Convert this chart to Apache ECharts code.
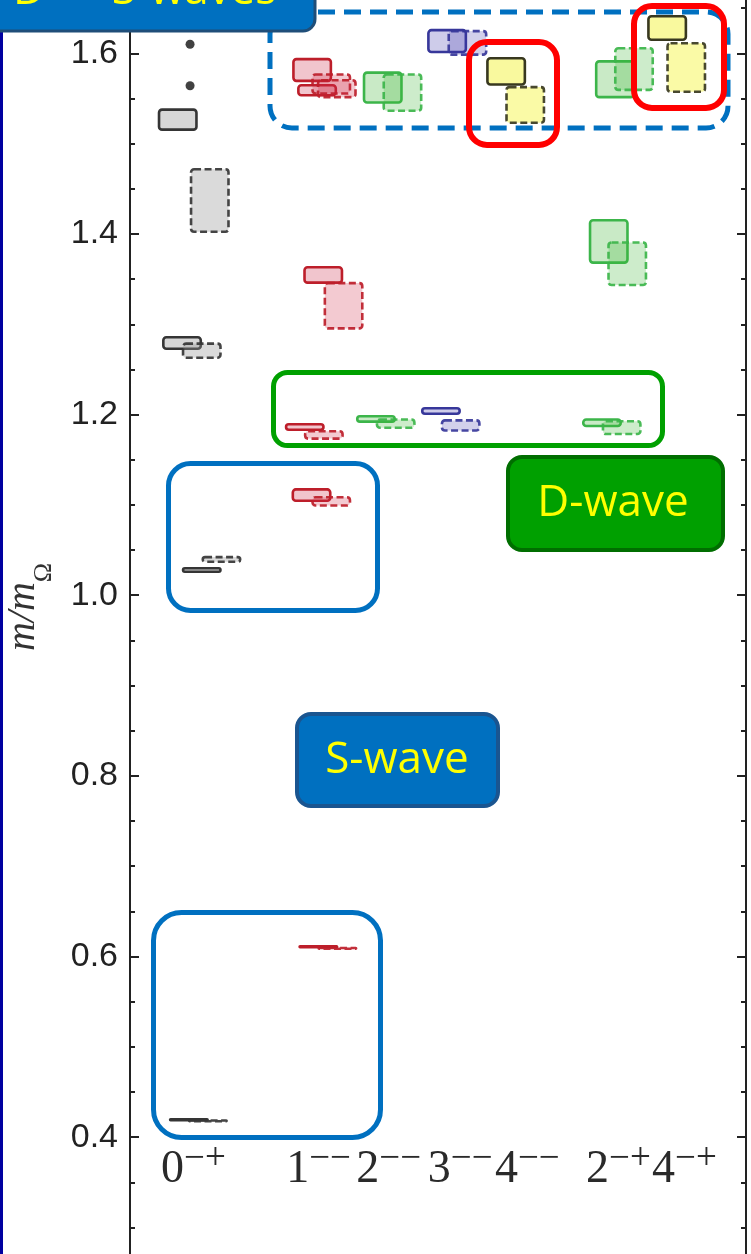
<!DOCTYPE html>
<html><head><meta charset="utf-8">
<script src="https://cdn.jsdelivr.net/npm/echarts@6/dist/echarts.min.js"></script>
<style>html,body{margin:0;padding:0;background:#fff}#c{width:751px;height:1254px}</style>
</head><body><div id="c"></div>
<script>
// ---- data ----
const channelDigits = ['0','1','2','3','4','2','4'];
const channelSigns  = ['−+','−−','−−','−−','−−','−+','−+'];
const channelPos = [1.055, 3.117, 4.253, 5.308, 6.266, 7.922, 8.880];
const labelPos   = [1.030, 3.060, 4.200, 5.360, 6.450, 7.930, 9.000];
const yTicks = [0.4, 0.6, 0.8, 1.0, 1.2, 1.4, 1.6];
// [channel, shift, low, high]  (solid outline ensemble)
const solidBoxes = [
  [0,-0.28,1.514,1.539],[0,-0.21,1.2715,1.287],[0,0.11,1.0246,1.0313],[0,-0.10,0.4190,0.4213],
  [1,-0.16,1.568,1.595],[1,-0.08,1.552,1.566],[1,0.02,1.3446,1.3645],[1,-0.28,1.1818,1.1907],[1,-0.17,1.1031,1.1186],[1,-0.06,0.6105,0.6128],
  [2,-0.15,1.544,1.580],[2,-0.26,1.1908,1.1996],
  [3,-0.16,1.600,1.627],[3,-0.26,1.1995,1.2084],
  [4,-0.16,1.564,1.596],
  [5,-0.05,1.550,1.5925],[5,-0.15,1.3668,1.4166],[5,-0.26,1.186,1.196],
  [6,-0.16,1.6136,1.6424]
];
// [channel, shift, low, high]  (dashed outline ensemble)
const dashedBoxes = [
  [0,0.24,1.401,1.473],[0,0.11,1.2615,1.280],[0,0.43,1.0357,1.0437],[0,0.21,0.4178,0.4200],
  [1,0.15,1.554,1.578],[1,0.24,1.550,1.5715],[1,0.35,1.294,1.347],[1,0.03,1.172,1.183],[1,0.15,1.098,1.110],[1,0.25,0.6088,0.6110],
  [2,0.17,1.535,1.578],[2,0.06,1.184,1.196],
  [3,0.17,1.597,1.626],[3,0.06,1.181,1.195],
  [4,0.15,1.5216,1.564],
  [5,0.26,1.558,1.607],[5,0.15,1.342,1.392],[5,0.06,1.177,1.194],
  [6,0.15,1.556,1.6125]
];
// [channel, shift, value]
const pointStates = [[0,-0.08,1.610],[0,-0.08,1.564]];

// ---- style ----
const palette = [
  {fill:'rgba(150,150,150,0.38)', stroke:'#353535'},
  {fill:'rgba(205,40,70,0.27)', stroke:'#bd1e2a'},
  {fill:'rgba(60,180,50,0.28)', stroke:'#3cb54a'},
  {fill:'rgba(60,50,170,0.25)', stroke:'#37379a'},
  {fill:'rgba(240,240,0,0.38)', stroke:'#38381f'},
  {fill:'rgba(60,180,50,0.28)', stroke:'#3cb54a'},
  {fill:'rgba(240,240,0,0.38)', stroke:'#38381f'}
];
const BOX_W = 0.65;
const LW = 2.6;

function boxSeries(boxes, dashed) {
  return {
    type: 'custom', xAxisIndex: 0, yAxisIndex: 0, z: dashed ? 3 : 2,
    data: boxes.map(b => [channelPos[b[0]] + b[1], b[2], b[3], b[0]]),
    encode: {x: 0, y: [1, 2]},
    renderItem: function (params, api) {
      const xc = api.value(0), lo = api.value(1), hi = api.value(2), ci = api.value(3);
      const p1 = api.coord([xc - BOX_W / 2, hi]);
      const p2 = api.coord([xc + BOX_W / 2, lo]);
      const pal = palette[ci];
      const h = Math.max(p2[1] - p1[1] - LW, 0.8);
      return {
        type: 'rect',
        shape: {x: p1[0] + LW/2, y: p1[1] + LW/2, width: p2[0] - p1[0] - LW, height: h, r: 3},
        style: {fill: pal.fill, stroke: pal.stroke, lineWidth: LW, lineDash: dashed ? [7, 3.5] : null, opacity: dashed ? 0.92 : 1}
      };
    }
  };
}

const chart = echarts.init(document.getElementById('c'), null, {renderer: 'canvas'});
const TOP = -127.4, H = 1445.3;
const axisCol = '#222';
const yAxisBase = {
  type: 'value', min: 0.2, max: 1.8, interval: 0.2,
  axisLine: {show: true, onZero: false, lineStyle: {color: axisCol, width: 2}},
  axisTick: {show: true, inside: true, length: 9, lineStyle: {color: axisCol, width: 2}},
  minorTick: {show: true, splitNumber: 4, length: 5, lineStyle: {color: axisCol, width: 2}},
  splitLine: {show: false}, minorSplitLine: {show: false}
};
chart.setOption({
  animation: false,
  backgroundColor: '#fff',
  grid: {left: 130, top: TOP, width: 616, height: H, containLabel: false, outerBoundsMode: 'none'},
  xAxis: [
    {type: 'value', min: 0, max: 10, show: false},
    {type: 'value', min: 0, max: 10, position: 'bottom', offset: -(TOP + H - 1145),
     axisLine: {show: false, onZero: false}, axisTick: {show: false}, splitLine: {show: false},
     axisLabel: {
       customValues: labelPos, margin: 2, hideOverlap: false, showMinLabel: true, showMaxLabel: true,
       formatter: function (v) {
         let k = 0, best = 1e9;
         labelPos.forEach((p, i) => { if (Math.abs(p - v) < best) { best = Math.abs(p - v); k = i; } });
         return '{d|' + channelDigits[k] + '}{s|' + channelSigns[k] + '}';
       },
       rich: {
         d: {fontSize: 46, fontFamily: 'Liberation Serif', color: '#2a2a2a', lineHeight: 46, verticalAlign: 'bottom'},
         s: {fontSize: 37, fontFamily: 'Liberation Serif', color: '#2a2a2a', lineHeight: 37, verticalAlign: 'bottom', padding: [0, 0, 15, 0]}
       }
     }}
  ],
  yAxis: [
    Object.assign({}, yAxisBase, {position: 'left',
      axisLabel: {fontSize: 34, fontFamily: 'Liberation Sans', color: axisCol, margin: 12,
        formatter: v => yTicks.some(t => Math.abs(t - v) < 1e-6) ? v.toFixed(1) : ''}}),
    Object.assign({}, yAxisBase, {position: 'right', axisLabel: {show: false}})
  ],
  series: [
    boxSeries(solidBoxes, false),
    boxSeries(dashedBoxes, true),
    {type: 'scatter', xAxisIndex: 0, yAxisIndex: 0, symbolSize: 9, itemStyle: {color: '#111'}, z: 4,
     data: pointStates.map(p => [channelPos[p[0]] + p[1], p[2]])}
  ],
  graphic: [
    {type: 'rect', z: 50, shape: {x: 0, y: 0, width: 3, height: 1254}, style: {fill: '#0000a0'}},
    {type: 'text', z: 50, x: 30, y: 607, rotation: Math.PI / 2,
     style: {text: '{i|m/m}{sub|Ω}', align: 'center', verticalAlign: 'middle',
       rich: {i: {fontSize: 40, fontStyle: 'italic', fontFamily: 'Liberation Serif', fill: '#333', lineHeight: 40, verticalAlign: 'top'},
              sub: {fontSize: 26, fontFamily: 'Liberation Serif', fill: '#333', lineHeight: 54, verticalAlign: 'bottom'}}}},
    // upper states dashed enclosure
    {type: 'rect', z: 51, shape: {x: 270, y: 12, width: 458, height: 116, r: 22},
     style: {fill: 'none', stroke: '#0070c0', lineWidth: 5, lineDash: [17, 9]}},
    // red highlights
    {type: 'rect', z: 52, shape: {x: 469, y: 42, width: 88, height: 103, r: 18},
     style: {fill: 'none', stroke: '#ff0000', lineWidth: 6}},
    {type: 'rect', z: 52, shape: {x: 634, y: 6, width: 90, height: 102, r: 18},
     style: {fill: 'none', stroke: '#ff0000', lineWidth: 6}},
    // D-wave enclosure
    {type: 'rect', z: 51, shape: {x: 273.5, y: 372.5, width: 389, height: 73, r: 14},
     style: {fill: 'none', stroke: '#00a000', lineWidth: 5}},
    // S-wave enclosures
    {type: 'rect', z: 51, shape: {x: 168.5, y: 463.5, width: 209, height: 147, r: 22},
     style: {fill: 'none', stroke: '#0070c0', lineWidth: 5}},
    {type: 'rect', z: 51, shape: {x: 153.5, y: 912.5, width: 227, height: 225, r: 28},
     style: {fill: 'none', stroke: '#0070c0', lineWidth: 5}},
    // D-wave tag
    {type: 'rect', z: 53, shape: {x: 508, y: 457, width: 215, height: 93, r: 14},
     style: {fill: '#00a000', stroke: '#006e00', lineWidth: 4}},
    {type: 'text', z: 54, x: 613, y: 503,
     style: {text: 'D-wave', fill: '#ffff00', font: '44px "Open Sans"', align: 'center', verticalAlign: 'middle'}},
    // S-wave tag
    {type: 'rect', z: 53, shape: {x: 297, y: 714, width: 201, height: 92, r: 14},
     style: {fill: '#0070c0', stroke: '#1a5590', lineWidth: 4}},
    {type: 'text', z: 54, x: 397, y: 760,
     style: {text: 'S-wave', fill: '#ffff00', font: '44px "Open Sans"', align: 'center', verticalAlign: 'middle'}},
    // top banner
    {type: 'rect', z: 55, shape: {x: -20, y: -40, width: 335, height: 71, r: 12},
     style: {fill: '#0070c0', stroke: '#1f4e79', lineWidth: 3}},
    {type: 'text', z: 56, x: 13, y: -9,
     style: {text: 'D — S-waves', fill: '#ffff00', font: '44px "Open Sans"', align: 'left', verticalAlign: 'middle'}}
  ]
});
</script></body></html>
